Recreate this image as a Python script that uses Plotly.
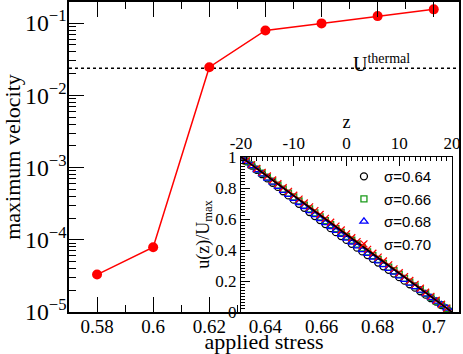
import plotly.graph_objects as go

# main panel: maximum velocity vs applied stress
stress = [0.58, 0.60, 0.62, 0.64, 0.66, 0.68, 0.70]
max_velocity = [3.3e-5, 7.9e-5, 0.0245, 0.079, 0.099, 0.125, 0.155]
u_thermal = 0.0237
stress_span = [0.57, 0.709]

# inset: velocity profiles u(z)/Umax
z = list(range(-20, 21))
u_064 = [1.000, 0.972, 0.945, 0.917, 0.889, 0.862, 0.834, 0.807, 0.779, 0.752,
         0.725, 0.698, 0.672, 0.645, 0.619, 0.593, 0.567, 0.541, 0.515, 0.490,
         0.465, 0.440, 0.415, 0.391, 0.367, 0.343, 0.319, 0.295, 0.272, 0.248,
         0.225, 0.202, 0.179, 0.157, 0.134, 0.112, 0.089, 0.067, 0.045, 0.022, 0.000]
u_066 = [1.000, 0.974, 0.948, 0.922, 0.896, 0.870, 0.845, 0.819, 0.793, 0.767,
         0.742, 0.716, 0.690, 0.665, 0.639, 0.614, 0.589, 0.563, 0.538, 0.513,
         0.488, 0.463, 0.438, 0.413, 0.388, 0.364, 0.339, 0.314, 0.290, 0.266,
         0.242, 0.217, 0.193, 0.169, 0.145, 0.120, 0.095, 0.071, 0.048, 0.024, 0.000]
u_068 = [1.000, 0.971, 0.943, 0.916, 0.889, 0.862, 0.836, 0.809, 0.783, 0.757,
         0.731, 0.705, 0.679, 0.653, 0.627, 0.601, 0.575, 0.550, 0.525, 0.500,
         0.475, 0.450, 0.425, 0.401, 0.376, 0.352, 0.328, 0.304, 0.280, 0.256,
         0.232, 0.209, 0.185, 0.162, 0.139, 0.115, 0.092, 0.069, 0.046, 0.023, 0.000]
u_070 = [1.000, 0.975, 0.951, 0.926, 0.901, 0.877, 0.852, 0.827, 0.802, 0.778,
         0.753, 0.728, 0.703, 0.678, 0.654, 0.629, 0.604, 0.579, 0.554, 0.529,
         0.504, 0.479, 0.454, 0.429, 0.404, 0.379, 0.354, 0.329, 0.304, 0.278,
         0.253, 0.228, 0.203, 0.178, 0.153, 0.127, 0.101, 0.076, 0.050, 0.025, 0.000]
linear_z = [-20, 20]
linear_u = [1.0, 0.0]

SERIF = "Liberation Serif"
SANS = "Liberation Sans"

fig = go.Figure()

fig.add_trace(go.Scatter(
    x=stress_span, y=[u_thermal, u_thermal], mode="lines",
    line=dict(color="black", width=1.5, dash="dot"), showlegend=False))
fig.add_trace(go.Scatter(
    x=stress, y=max_velocity, mode="lines+markers",
    line=dict(color="#ff0000", width=1.5),
    marker=dict(color="#ff0000", size=10), showlegend=False))

# inset series
profiles = [
    ("σ=0.64", u_064, "circle-open", "black", 7),
    ("σ=0.66", u_066, "square-open", "#1a9a1a", 6),
    ("σ=0.68", u_068, "triangle-up-open", "#0000ff", 7),
    ("σ=0.70", u_070, "x-thin-open", "#ff0000", 7),
]
for name, vals, sym, col, sz in profiles:
    fig.add_trace(go.Scatter(
        x=z, y=vals, mode="markers", name=name,
        marker=dict(symbol=sym, size=sz, color=col, line=dict(color=col, width=1.3)),
        xaxis="x2", yaxis="y2"))
fig.add_trace(go.Scatter(
    x=linear_z, y=linear_u, mode="lines", line=dict(color="black", width=1.8),
    showlegend=False, xaxis="x2", yaxis="y2"))

fig.add_annotation(
    x=0.88, y=0.85, xref="paper", yref="paper", showarrow=False,
    text="U<sup>thermal</sup>", font=dict(family=SERIF, size=20, color="black"))

fig.update_layout(
    width=463, height=354,
    margin=dict(l=69, r=4, t=2, b=42),
    paper_bgcolor="white", plot_bgcolor="white",
    font=dict(family=SERIF, color="black"),
    xaxis=dict(
        domain=[0, 1], range=stress_span, tick0=0.58, dtick=0.02,
        ticks="inside", ticklen=15, tickwidth=1.2, tickcolor="black",
        minor=dict(dtick=0.01, ticks="inside", ticklen=7, tickcolor="black"),
        showline=True, linecolor="black", linewidth=1.5, mirror="ticks",
        showgrid=False, zeroline=False, automargin=False, ticklabelstandoff=-4,
        tickfont=dict(family=SERIF, size=19),
        title=dict(text="applied stress", font=dict(family=SERIF, size=22), standoff=0)),
    yaxis=dict(
        type="log", range=[-5, -0.708], dtick=1, exponentformat="power",
        ticks="inside", ticklen=15, tickwidth=1.2, tickcolor="black",
        minor=dict(dtick="D1", ticks="inside", ticklen=7, tickcolor="black"),
        showline=True, linecolor="black", linewidth=1.5, mirror=True,
        showgrid=False, zeroline=False, automargin=False, ticklabelstandoff=-3,
        tickfont=dict(family=SERIF, size=19),
        title=dict(text="maximum velocity", font=dict(family=SERIF, size=22), standoff=4)),
    xaxis2=dict(
        domain=[0.441, 0.982], anchor="y2", side="top", range=[-20, 20],
        tickmode="array", tickvals=[-20, -10, 0, 10, 20],
        ticktext=["-20", "-10", "0", "10", "20"],
        ticks="inside", ticklen=9, tickcolor="black",
        minor=dict(tick0=-20, dtick=1, ticks="inside", ticklen=4, tickcolor="black"),
        showline=True, linecolor="black", linewidth=1, mirror=True,
        showgrid=False, zeroline=False, automargin=False,
        tickfont=dict(family=SERIF, size=17),
        title=dict(text="z", font=dict(family=SERIF, size=18), standoff=0)),
    yaxis2=dict(
        domain=[0, 0.5], anchor="x2", range=[0, 1], dtick=0.2,
        ticks="inside", ticklen=9, tickcolor="black",
        minor=dict(dtick=0.02, ticks="inside", ticklen=4, tickcolor="black"),
        showline=True, linecolor="black", linewidth=1, mirror=True,
        showgrid=False, zeroline=False, automargin=False,
        tickfont=dict(family=SERIF, size=17),
        title=dict(text="u(z)/U<sub>max</sub>", font=dict(family=SERIF, size=18), standoff=0)),
    legend=dict(
        x=0.705, y=0.49, xanchor="left", yanchor="top",
        bgcolor="rgba(0,0,0,0)", font=dict(family=SANS, size=15),
        itemwidth=30),
)

# page has an 8px body margin by default; drop it so the figure sits at the corner
fig.write_html("out.html", config={"displayModeBar": False},
               post_script="document.body.style.margin='0';")
